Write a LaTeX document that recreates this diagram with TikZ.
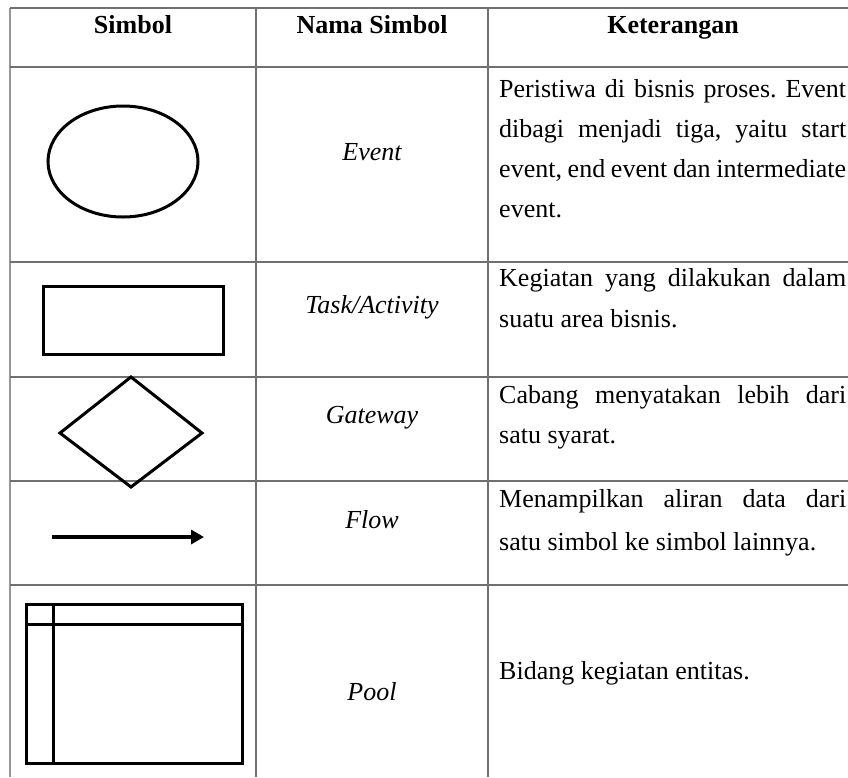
\documentclass[tikz,border=0pt]{standalone}
\usepackage{fontspec}
\setmainfont{Liberation Serif}
\usetikzlibrary{arrows.meta}
\definecolor{tabgray}{RGB}{112,112,112}
\definecolor{edgegray}{RGB}{150,150,150}
\frenchspacing
\begin{document}
\begin{tikzpicture}[x=1pt,y=-1pt,
  tabline/.style={draw=tabgray, line width=1.3pt},
  edgeline/.style={draw=edgegray, line width=1.5pt},
  sym/.style={draw=black, line width=3pt},
  head/.style={font=\fontsize{26}{30}\selectfont\bfseries, inner sep=0, anchor=base},
  label/.style={font=\fontsize{26}{30}\selectfont\itshape, inner sep=0, anchor=base},
  desc/.style={font=\fontsize{26}{30}\selectfont, inner sep=0, anchor=base west},
]
\useasboundingbox (0,0) rectangle (848,777);

% table rules
\draw[edgeline] (10,8) -- (10,777);
\draw[tabline] (256,8) -- (256,777);
\draw[tabline] (488,8) -- (488,777);
\foreach \y in {8,67,262,377,481,585}
  \draw[tabline] (10,\y) -- (848,\y);

% header
\node[head] (h1) at (133,33) {Simbol};
\node[head] (h2) at (372,33) {Nama Simbol};
\node[head] (h3) at (673,33) {Keterangan};

% symbols
\draw[sym] (123,161.5) ellipse [x radius=75pt, y radius=55.5pt];
\draw[sym] (43,286) rectangle (223,354);
\draw[sym] (60,433) -- (131,377) -- (202,433) -- (131,487) -- cycle;
\coordinate (fa) at (52,537);
\coordinate (fb) at (204,537);
\draw[sym, line width=3.2pt, -{Triangle[length=13pt,width=14pt]}] (fa) -- (fb);
\draw[sym] (26,604) rectangle (242,763);
\draw[sym] (26,624) -- (242,624);
\draw[sym] (53,604) -- (53,763);

% symbol names
\node[label] (n1) at (372,160) {Event};
\node[label] (n2) at (372,313) {Task/Activity};
\node[label] (n3) at (372,423) {Gateway};
\node[label] (n4) at (372,528) {Flow};
\node[label] (n5) at (372,700) {Pool};

% descriptions
\def\tw{347pt}
\node[desc] (d1a) at (499,97)  {\makebox[\tw][s]{Peristiwa di bisnis proses. Event}};
\node[desc] (d1b) at (499,137) {\makebox[\tw][s]{dibagi menjadi tiga, yaitu start}};
\node[desc] (d1c) at (499,177) {\makebox[\tw][s]{event, end event dan intermediate}};
\node[desc] (d1d) at (499,217) {event.};
\node[desc] (d2a) at (499,286) {\makebox[\tw][s]{Kegiatan yang dilakukan dalam}};
\node[desc] (d2b) at (499,327) {suatu area bisnis.};
\node[desc] (d3a) at (499,403) {\makebox[\tw][s]{Cabang menyatakan lebih dari}};
\node[desc] (d3b) at (499,443) {satu syarat.};
\node[desc] (d4a) at (499,507) {\makebox[\tw][s]{Menampilkan aliran data dari}};
\node[desc] (d4b) at (499,550) {satu simbol ke simbol lainnya.};
\node[desc] (d5a) at (499,679) {Bidang kegiatan entitas.};
\end{tikzpicture}
\end{document}
